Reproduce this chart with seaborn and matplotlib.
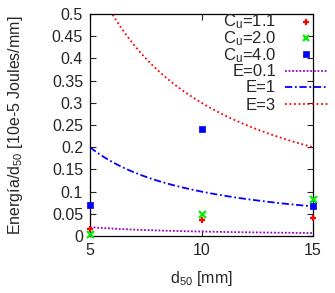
import numpy as np
import pandas as pd
import matplotlib
matplotlib.use("Agg")
import matplotlib.pyplot as plt
from matplotlib.lines import Line2D
import seaborn as sns

# data
d50 = [5, 10, 15]
cu_11 = [0.015, 0.035, 0.040]
cu_20 = [0.005, 0.050, 0.083]
cu_40 = [0.070, 0.240, 0.067]
cu_labels = ["C$_u$=1.1", "C$_u$=2.0", "C$_u$=4.0"]
energies = [0.1, 1, 3]
e_labels = ["E=0.1", "E=1", "E=3"]
x_ticks = [5, 10, 15]
y_ticks = [0, 0.05, 0.1, 0.15, 0.2, 0.25, 0.3, 0.35, 0.4, 0.45, 0.5]

sns.set_style("ticks")
plt.rcParams['font.family'] = ['Liberation Sans', 'DejaVu Sans']
plt.rcParams['mathtext.default'] = 'regular'
FS = 11.5
W, H = 335, 293

fig = plt.figure(figsize=(3.35, 2.93), dpi=100)
ax = fig.add_axes([90/W, 1-236/H, (313-90)/W, (236-14)/H])

pts = pd.DataFrame({
    "d50": d50 * 3,
    "val": cu_11 + cu_20 + cu_40,
    "serie": [cu_labels[0]]*3 + [cu_labels[1]]*3 + [cu_labels[2]]*3,
})
marker_styles = [("+", "#ff0000", 5, 1.6), ("x", "#00ee00", 5, 1.6), ("s", "#0000ff", 5, 0.5)]
for lab, (m, c, s, lw) in zip(cu_labels, marker_styles):
    sub = pts[pts.serie == lab]
    sns.scatterplot(data=sub, x="d50", y="val", ax=ax, marker=m, color=c,
                    s=s**2, linewidth=lw, edgecolor=c if m == "s" else None,
                    legend=False, clip_on=False, zorder=5)

xs = np.linspace(5, 15, 200)
line_styles = [("#9400d3", (0, (1, 1))), ("#0000ff", (0, (4, 1.5, 1, 1.5))), ("#ff0000", (0, (1, 1.5)))]
for E, lab, (c, ls) in zip(energies, e_labels, line_styles):
    curve = pd.DataFrame({"d50": xs, "val": E / xs})
    sns.lineplot(data=curve, x="d50", y="val", ax=ax, color=c, linestyle=ls,
                 linewidth=1.3, legend=False)

ax.set_xlim(5, 15)
ax.set_ylim(0, 0.5)
ax.set_xticks(x_ticks)
ax.set_xticklabels([str(t) for t in x_ticks], fontsize=FS)
ax.set_yticks(y_ticks)
ax.set_yticklabels([f"{t:g}" for t in y_ticks], fontsize=FS)
ax.tick_params(direction="in", top=True, right=True, length=4, width=0.8, pad=5)
for sp in ax.spines.values():
    sp.set_visible(True)
    sp.set_linewidth(0.9)
    sp.set_color("black")

ax.set_xlabel("d$_{50}$ [mm]", fontsize=FS, labelpad=8)
ax.set_ylabel("Energía/d$_{50}$ [10e-5 Joules/mm]", fontsize=FS, labelpad=19)

# gnuplot-style key: text right-aligned, sample to the right
row_y = [22, 38, 54, 71, 87, 104]
# the three C_u labels as one text block so their subscripts do not collide
fig.text(276/W, 1-38.5/H, "\n".join(cu_labels), ha="right", va="center",
         multialignment="right", fontsize=12, linespacing=0.87)
for i, y in enumerate(row_y[:3]):
    m, c, s, lw = marker_styles[i]
    fig.add_artist(Line2D([306/W], [1-y/H], transform=fig.transFigure,
                          marker=m, color=c, markersize=s, markeredgewidth=lw,
                          linestyle="none"))
for i, (lab, y) in enumerate(zip(e_labels, row_y[3:])):
    fig.text(276/W, 1-(y+5.5)/H, lab, ha="right", va="baseline", fontsize=12)
    c, ls = line_styles[i]
    fig.add_artist(Line2D([285/W, 328/W], [1-y/H, 1-y/H], transform=fig.transFigure,
                          color=c, linestyle=ls, linewidth=1.3))

fig.savefig("out.png", dpi=100)
